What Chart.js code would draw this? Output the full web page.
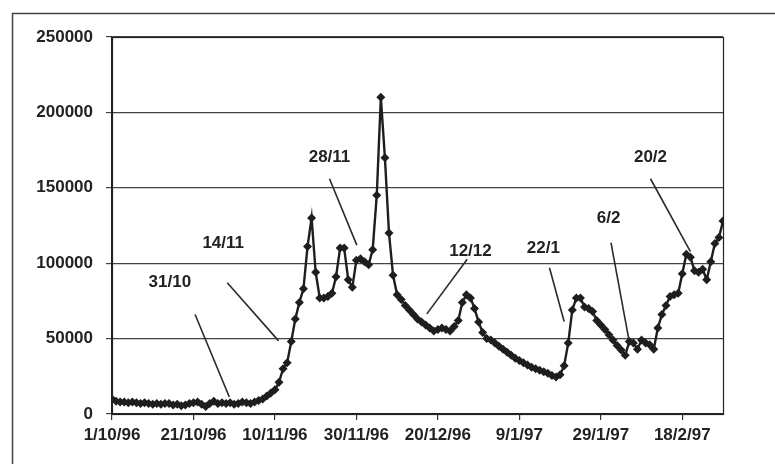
<!DOCTYPE html>
<html>
<head>
<meta charset="utf-8">
<script src="https://cdn.jsdelivr.net/npm/chart.js@4/dist/chart.umd.min.js"></script>
<style>
html, body { margin: 0; padding: 0; background: #fff; }
#wrap { width: 775px; height: 464px; position: relative; }
</style>
</head>
<body>
<div id="wrap"><canvas id="chart" width="775" height="464"></canvas></div>
<script>
// daily values, 1/10/96 .. 28/2/97 (index = days since 1/10/96)
const dailyValues = [
    10000, 8500, 8000, 8000, 7500, 8000, 7500, 7000, 7500, 7000,
    6500, 7000, 6500, 7000, 7000, 6000, 6500, 5500, 6000, 7000,
    7500, 8000, 6500, 5000, 7000, 8500, 7000, 7500, 7000, 7500,
    6500, 7000, 8000, 7500, 7000, 8000, 9000, 10000, 12000, 14000,
    16000, 21000, 30000, 34000, 48000, 63000, 74000, 83000, 111000, 130000,
    94000, 77000, 77000, 78000, 80000, 91000, 110000, 110000, 89000, 84000,
    102000, 103000, 101000, 99000, 109000, 145000, 210000, 170000, 120000, 92000,
    79000, 76000, 72000, 69000, 66000, 63000, 61000, 59000, 57000, 55000,
    56000, 57000, 56000, 55000, 58000, 62000, 74000, 79000, 77000, 70000,
    61000, 54000, 50000, 49000, 47000, 45000, 43000, 41000, 39000, 37000,
    35500, 34000, 32500, 31000, 30000, 29000, 28000, 27000, 25500, 24500,
    26000, 32000, 47000, 69000, 77000, 77000, 71000, 70000, 68000, 62000,
    59000, 56000, 52500, 49000, 45500, 42500, 39000, 48000, 47000, 43000,
    49000, 47000, 46000, 43000, 57000, 66000, 72000, 78000, 79000, 80000,
    93000, 106000, 104000, 95000, 94000, 96000, 89000, 101000, 113000, 117000,
    128000
];

const tickDays = [0, 20, 40, 60, 80, 100, 120, 140];
const tickLabels = ['1/10/96', '21/10/96', '10/11/96', '30/11/96', '20/12/96', '9/1/97', '29/1/97', '18/2/97'];

// callouts: text, where the text sits and the pointer line (day, value)
const noteLabels   = ['31/10', '14/11', '28/11', '12/12', '22/1', '6/2', '20/2'];
const noteTextDay  = [14.2, 27.3, 53.4, 88, 105.9, 121.9, 132.2];
const noteTextVal  = [87000, 113000, 170000, 108000, 110000, 130000, 170000];
const noteFromDay  = [20.4, 28.3, 53.4, 87.2, 107.4, 122.5, 132.2];
const noteFromVal  = [66000, 87000, 156000, 102600, 97000, 113600, 156000];
const noteToDay    = [28.8, 40.9, 60.1, 77.3, 111, 126.9, 142];
const noteToVal    = [11300, 48500, 112000, 66400, 61300, 49200, 107600];

const FONT = { family: "'Liberation Sans', Arial, sans-serif", size: 17, weight: 'bold' };

const framePlugin = {
    id: 'frame',
    beforeDraw(chart) {
        const c = chart.ctx;
        c.save();
        c.fillStyle = '#fff';
        c.fillRect(0, 0, chart.width, chart.height);
        c.strokeStyle = '#444';
        c.lineWidth = 1.5;
        c.beginPath();
        c.moveTo(12.5, chart.height);
        c.lineTo(12.5, 13.5);
        c.lineTo(chart.width, 13.5);
        c.stroke();
        c.restore();
    },
    afterDatasetsDraw(chart) {
        const c = chart.ctx;
        const a = chart.chartArea;
        const xs = chart.scales.x, ys = chart.scales.y;
        c.save();
        c.strokeStyle = '#222';
        c.lineWidth = 1.2;
        c.strokeRect(a.left + 0.5, a.top + 0.5, a.right - a.left, a.bottom - a.top);
        // callouts
        c.lineWidth = 1.6;
        c.strokeStyle = '#2a2a2a';
        c.fillStyle = '#222';
        c.font = `${FONT.weight} ${FONT.size}px ${FONT.family}`;
        c.textAlign = 'center';
        c.textBaseline = 'middle';
        noteLabels.forEach((txt, i) => {
            c.beginPath();
            c.moveTo(xs.getPixelForValue(noteFromDay[i]), ys.getPixelForValue(noteFromVal[i]));
            c.lineTo(xs.getPixelForValue(noteToDay[i]), ys.getPixelForValue(noteToVal[i]));
            c.stroke();
            c.fillText(txt, xs.getPixelForValue(noteTextDay[i]), ys.getPixelForValue(noteTextVal[i]));
        });
        c.restore();
    }
};

const ctx = document.getElementById('chart').getContext('2d');
const chart = new Chart(ctx, {
    type: 'line',
    data: {
        datasets: [{
            data: dailyValues.map((v, i) => ({ x: i, y: v })),
            borderColor: '#1e1e1e',
            borderWidth: 2.4,
            pointStyle: 'rectRot',
            pointRadius: 4.5,
            pointBackgroundColor: '#1e1e1e',
            pointBorderColor: '#1e1e1e',
            pointBorderWidth: 0,
            tension: 0,
            fill: false
        }]
    },
    options: {
        responsive: false,
        devicePixelRatio: 1,
        animation: false,
        layout: { padding: { left: 12, top: 37, right: 52, bottom: 0 } },
        scales: {
            x: {
                type: 'linear',
                min: 0,
                max: 150,
                afterFit: s => { s.height = 50; },
                afterBuildTicks: s => { s.ticks = tickDays.map(d => ({ value: d })); },
                ticks: {
                    autoSkip: false,
                    maxRotation: 0,
                    padding: 5,
                    color: '#222',
                    font: FONT,
                    callback: value => tickLabels[tickDays.indexOf(value)]
                },
                grid: {
                    drawOnChartArea: false,
                    tickLength: 6,
                    color: '#333',
                    lineWidth: 1.2
                },
                border: { color: '#222', width: 1.2 }
            },
            y: {
                min: 0,
                max: 250000,
                afterFit: s => { s.width = 100; },
                ticks: {
                    stepSize: 50000,
                    padding: 13,
                    color: '#222',
                    font: FONT,
                    callback: value => String(value)
                },
                grid: {
                    color: '#444',
                    lineWidth: 1.2,
                    tickLength: 6
                },
                border: { color: '#222', width: 1.2 }
            }
        },
        plugins: {
            legend: { display: false },
            title: { display: false },
            tooltip: { enabled: false }
        }
    },
    plugins: [framePlugin]
});
</script>
</body>
</html>
